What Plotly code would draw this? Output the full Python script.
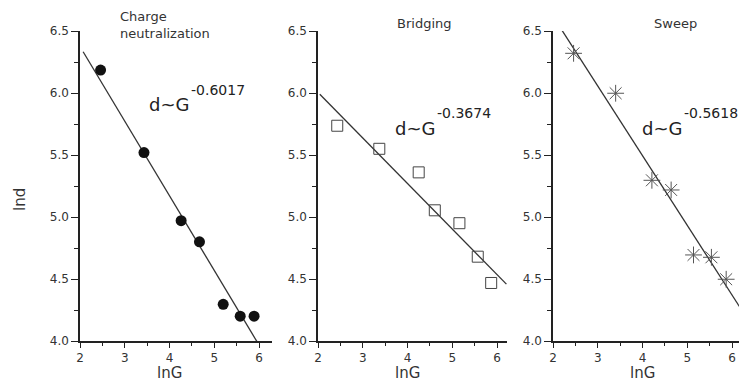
import plotly.graph_objects as go

# The page body has an 8px margin, so the figure is drawn 8px in from the
# window's top-left corner; all reference pixel positions are shifted by OFF.
OFF = 8
W, H = 747 - OFF, 383 - OFF

# ---- data ----
panel_titles = ["Charge<br>neutralization", "Bridging", "Sweep"]

charge_lnG = [2.46, 3.43, 4.26, 4.67, 5.20, 5.58, 5.89]
charge_lnd = [6.185, 5.52, 4.97, 4.80, 4.296, 4.20, 4.20]

bridging_lnG = [2.43, 3.37, 4.25, 4.61, 5.16, 5.57, 5.87]
bridging_lnd = [5.736, 5.55, 5.36, 5.054, 4.95, 4.68, 4.468]

sweep_lnG = [2.46, 3.40, 4.21, 4.64, 5.14, 5.54, 5.87]
sweep_lnd = [6.32, 5.998, 5.296, 5.218, 4.694, 4.675, 4.498]

fit_slopes = [-0.6017, -0.3674, -0.5618]
fit_intercepts = [7.578, 6.74, 7.742]
fit_x_start = [2.07, 2.04, 2.20]
fit_x_end = [6.00, 6.21, 6.19]
fit_base = ["d~G", "d~G", "d~G"]
fit_exponents = ["-0.6017", "-0.3674", "-0.5618"]

x_ticks = [2, 3, 4, 5, 6]
y_ticks = [4.0, 4.5, 5.0, 5.5, 6.0, 6.5]
y_ticklabels = ["4.0", "4.5", "5.0", "5.5", "6.0", "6.5"]

# ---- layout geometry (reference window pixels) ----
x_dom_px = [(80, 272), (318, 507), (553, 747)]
px_per_unit = 44.75
y_top_px, y_bot_px = 31, 341

FONT = "DejaVu Sans"
AX_COL = "#222"
TXT_COL = "#333"

def fx(p):  # window x pixel -> paper fraction
    return (p - OFF) / W

def fy(p):  # window y pixel -> paper fraction
    return 1 - (p - OFF) / H

fig = go.Figure()

series = [
    (charge_lnG, charge_lnd, dict(symbol="circle", size=11, color="#111", line=dict(width=0))),
    (bridging_lnG, bridging_lnd, dict(symbol="square-open", size=11, color="#444", line=dict(width=1, color="#444"))),
    (sweep_lnG, sweep_lnd, dict(symbol="asterisk-open", size=14, color="#555", line=dict(width=1, color="#555"))),
]

for i, (xs, ys, mk) in enumerate(series):
    xa = "x" if i == 0 else f"x{i+1}"
    ya = "y" if i == 0 else f"y{i+1}"
    lx = [fit_x_start[i], fit_x_end[i]]
    ly = [fit_intercepts[i] + fit_slopes[i] * v for v in lx]
    fig.add_trace(go.Scatter(x=lx, y=ly, mode="lines", line=dict(color="#333", width=1.3),
                             xaxis=xa, yaxis=ya, showlegend=False, hoverinfo="skip"))
    fig.add_trace(go.Scatter(x=xs, y=ys, mode="markers", marker=mk,
                             xaxis=xa, yaxis=ya, showlegend=False))

ydom = [fy(y_bot_px), fy(y_top_px)]
for i, (a, b) in enumerate(x_dom_px):
    xkey = "xaxis" if i == 0 else f"xaxis{i+1}"
    ykey = "yaxis" if i == 0 else f"yaxis{i+1}"
    xa_anchor = "y" if i == 0 else f"y{i+1}"
    ya_anchor = "x" if i == 0 else f"x{i+1}"
    xmax = 2 + (b - a) / px_per_unit
    fig.layout[xkey] = dict(
        domain=[fx(a), min(1.0, fx(b))], range=[2, xmax], anchor=xa_anchor,
        tickvals=x_ticks, ticks="outside", ticklen=5, tickwidth=1.2, tickcolor=AX_COL,
        minor=dict(dtick=0.5, tick0=2, ticks="outside", ticklen=3, tickwidth=1, tickcolor=AX_COL),
        showline=True, linecolor=AX_COL, linewidth=1.5, showgrid=False, zeroline=False,
        tickfont=dict(family=FONT, size=12, color=TXT_COL), automargin=False, fixedrange=True,
    )
    fig.layout[ykey] = dict(
        domain=ydom, range=[4.0, 6.5], anchor=ya_anchor,
        tickvals=y_ticks, ticktext=y_ticklabels, ticks="outside", ticklen=7, tickwidth=1.2, tickcolor=AX_COL,
        minor=dict(dtick=0.25, tick0=4.0, ticks="outside", ticklen=4, tickwidth=1, tickcolor=AX_COL),
        showline=True, linecolor=AX_COL, linewidth=1.5, showgrid=False, zeroline=False,
        tickfont=dict(family=FONT, size=12, color=TXT_COL), automargin=False, fixedrange=True,
    )

annos = []
# panel titles
title_pos = [(118, 7, "left", "top"), (424, 24, "center", "middle"), (675, 24, "center", "middle")]
for t, (x, y, xa, ya) in zip(panel_titles, title_pos):
    annos.append(dict(text=t, x=fx(x), y=fy(y), xref="paper", yref="paper", xanchor=xa, yanchor=ya,
                      align="left", showarrow=False, font=dict(family=FONT, size=13, color=TXT_COL)))
# fit labels: base text and raised exponent
base_pos = [(147, 105), (393, 128), (640, 128)]
exp_pos = [(189, 90), (435, 113), (682, 113)]
for t, e, (bx, by), (ex, ey) in zip(fit_base, fit_exponents, base_pos, exp_pos):
    annos.append(dict(text=t, x=fx(bx), y=fy(by), xref="paper", yref="paper", xanchor="left", yanchor="middle",
                      showarrow=False, font=dict(family=FONT, size=18, color="#222")))
    annos.append(dict(text=e, x=fx(ex), y=fy(ey), xref="paper", yref="paper", xanchor="left", yanchor="middle",
                      showarrow=False, font=dict(family=FONT, size=14, color="#222")))
# x axis titles
for i in range(3):
    xr = "x" if i == 0 else f"x{i+1}"
    annos.append(dict(text="lnG", x=4, y=fy(373), xref=xr, yref="paper", xanchor="center", yanchor="middle",
                      showarrow=False, font=dict(family=FONT, size=15, color=TXT_COL)))
# y axis title
annos.append(dict(text="lnd", x=fx(20), y=fy(200), xref="paper", yref="paper", textangle=-90, xanchor="center",
                  yanchor="middle", showarrow=False, font=dict(family=FONT, size=15, color=TXT_COL)))

fig.update_layout(
    width=W, height=H, margin=dict(l=0, r=0, t=0, b=0),
    paper_bgcolor="white", plot_bgcolor="white", annotations=annos,
)

fig.write_html("out.html", config={"displayModeBar": False})
